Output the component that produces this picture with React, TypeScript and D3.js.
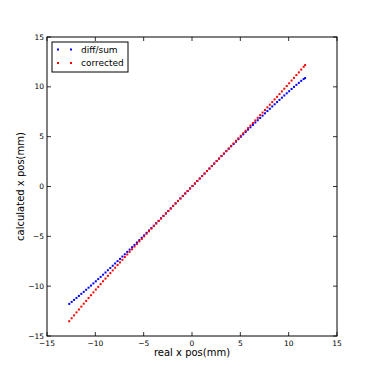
import React, { useEffect, useRef } from "react";
import * as d3 from "d3";

// real x position (mm)
const realX = [
  -12.7, -12.45, -12.2, -11.95, -11.7, -11.45, -11.2, -10.95, -10.7, -10.45,
  -10.2, -9.95, -9.7, -9.45, -9.2, -8.95, -8.7, -8.45, -8.2, -7.95,
  -7.7, -7.45, -7.2, -6.95, -6.7, -6.45, -6.2, -5.95, -5.7, -5.45,
  -5.2, -4.95, -4.7, -4.45, -4.2, -3.95, -3.7, -3.45, -3.2, -2.95,
  -2.7, -2.45, -2.2, -1.95, -1.7, -1.45, -1.2, -0.95, -0.7, -0.45,
  -0.2, 0.05, 0.3, 0.55, 0.8, 1.05, 1.3, 1.55, 1.8, 2.05,
  2.3, 2.55, 2.8, 3.05, 3.3, 3.55, 3.8, 4.05, 4.3, 4.55,
  4.8, 5.05, 5.3, 5.55, 5.8, 6.05, 6.3, 6.55, 6.8, 7.05,
  7.3, 7.55, 7.8, 8.05, 8.3, 8.55, 8.8, 9.05, 9.3, 9.55,
  9.8, 10.05, 10.3, 10.55, 10.8, 11.05, 11.3, 11.55, 11.7,
];

// diff/sum estimate
const diffSum = [
  -11.78, -11.58, -11.38, -11.18, -10.98, -10.77, -10.57, -10.36, -10.15, -9.94,
  -9.72, -9.51, -9.29, -9.07, -8.85, -8.63, -8.4, -8.18, -7.95, -7.72,
  -7.49, -7.26, -7.03, -6.8, -6.56, -6.33, -6.09, -5.86, -5.62, -5.38,
  -5.14, -4.9, -4.65, -4.41, -4.17, -3.93, -3.68, -3.44, -3.19, -2.94,
  -2.7, -2.45, -2.2, -1.95, -1.7, -1.45, -1.2, -0.95, -0.7, -0.45,
  -0.2, 0.05, 0.3, 0.55, 0.8, 1.05, 1.3, 1.55, 1.8, 2.05,
  2.3, 2.55, 2.8, 3.05, 3.29, 3.54, 3.78, 4.03, 4.26, 4.5,
  4.75, 4.99, 5.23, 5.47, 5.71, 5.94, 6.18, 6.42, 6.65, 6.88,
  7.11, 7.34, 7.57, 7.8, 8.03, 8.25, 8.47, 8.69, 8.91, 9.13,
  9.35, 9.56, 9.78, 9.99, 10.2, 10.4, 10.6, 10.78, 10.88,
];

// corrected estimate
const corrected = [
  -13.52, -13.22, -12.93, -12.63, -12.34, -12.05, -11.76, -11.48, -11.19, -10.91,
  -10.62, -10.34, -10.07, -9.79, -9.51, -9.24, -8.96, -8.69, -8.42, -8.15,
  -7.88, -7.62, -7.35, -7.08, -6.82, -6.56, -6.3, -6.03, -5.77, -5.51,
  -5.26, -5.0, -4.74, -4.49, -4.23, -3.97, -3.72, -3.46, -3.21, -2.96,
  -2.71, -2.46, -2.21, -1.95, -1.7, -1.45, -1.2, -0.95, -0.7, -0.45,
  -0.2, 0.05, 0.3, 0.55, 0.8, 1.05, 1.3, 1.55, 1.8, 2.05,
  2.3, 2.56, 2.81, 3.06, 3.31, 3.57, 3.82, 4.07, 4.32, 4.58,
  4.83, 5.09, 5.34, 5.6, 5.86, 6.12, 6.37, 6.63, 6.89, 7.16,
  7.42, 7.68, 7.94, 8.21, 8.47, 8.74, 9.0, 9.27, 9.54, 9.81,
  10.08, 10.35, 10.63, 10.9, 11.18, 11.45, 11.73, 12.01, 12.18,
];

const ticks = [-15, -10, -5, 0, 5, 10, 15];
const seriesNames = ["diff/sum", "corrected"];
const seriesColors = ["#0000ff", "#ff0000"];

const App = () => {
  const ref = useRef(null);
  const width = 374;
  const height = 374;
  const margin = { left: 47, right: 37, top: 37, bottom: 38 };

  useEffect(() => {
    const svg = d3.select(ref.current);
    svg.selectAll("*").remove();

    const x = d3.scaleLinear().domain([-15, 15]).range([margin.left, width - margin.right]);
    const y = d3.scaleLinear().domain([-15, 15]).range([height - margin.bottom, margin.top]);
    const fmt = (d) => (d < 0 ? "\u2212" + Math.abs(d) : String(d));
    const font = "DejaVu Sans, sans-serif";

    const series = [diffSum, corrected];
    series.forEach((vals, k) => {
      svg
        .append("g")
        .selectAll("rect")
        .data(vals)
        .enter()
        .append("rect")
        .attr("x", (d, i) => x(realX[i]) - 1)
        .attr("y", (d) => y(d) - 1)
        .attr("width", 2)
        .attr("height", 2)
        .attr("fill", seriesColors[k]);
    });

    // frame
    svg
      .append("rect")
      .attr("x", x(-15))
      .attr("y", y(15))
      .attr("width", x(15) - x(-15))
      .attr("height", y(-15) - y(15))
      .attr("fill", "none")
      .attr("stroke", "#000")
      .attr("stroke-width", 1);

    // inward ticks on all sides
    const tl = 4;
    const tg = svg.append("g").attr("stroke", "#000").attr("stroke-width", 0.8);
    ticks.forEach((t) => {
      tg.append("line").attr("x1", x(t)).attr("x2", x(t)).attr("y1", y(-15)).attr("y2", y(-15) - tl);
      tg.append("line").attr("x1", x(t)).attr("x2", x(t)).attr("y1", y(15)).attr("y2", y(15) + tl);
      tg.append("line").attr("y1", y(t)).attr("y2", y(t)).attr("x1", x(-15)).attr("x2", x(-15) + tl);
      tg.append("line").attr("y1", y(t)).attr("y2", y(t)).attr("x1", x(15)).attr("x2", x(15) - tl);
    });

    svg
      .append("g")
      .selectAll("text")
      .data(ticks)
      .enter()
      .append("text")
      .attr("x", (d) => x(d))
      .attr("y", y(-15) + 10)
      .attr("text-anchor", "middle")
      .style("font-family", font)
      .style("font-size", "7.5px")
      .text(fmt);

    svg
      .append("g")
      .selectAll("text")
      .data(ticks)
      .enter()
      .append("text")
      .attr("x", x(-15) - 3)
      .attr("y", (d) => y(d))
      .attr("dy", "0.35em")
      .attr("text-anchor", "end")
      .style("font-family", font)
      .style("font-size", "7.5px")
      .text(fmt);

    svg
      .append("text")
      .attr("x", (x(-15) + x(15)) / 2)
      .attr("y", 356)
      .attr("text-anchor", "middle")
      .style("font-family", font)
      .style("font-size", "10px")
      .text("real x pos(mm)");

    svg
      .append("text")
      .attr("transform", `translate(24 ${(y(-15) + y(15)) / 2}) rotate(-90)`)
      .attr("text-anchor", "middle")
      .style("font-family", font)
      .style("font-size", "10px")
      .text("calculated x pos(mm)");

    // legend
    const lg = svg.append("g");
    lg.append("rect")
      .attr("x", 52)
      .attr("y", 42)
      .attr("width", 76)
      .attr("height", 30)
      .attr("fill", "#fff")
      .attr("stroke", "#000")
      .attr("stroke-width", 1);
    seriesNames.forEach((name, k) => {
      const cy = 49.5 + k * 13.5;
      [58, 71].forEach((cx) => {
        lg.append("rect")
          .attr("x", cx - 1)
          .attr("y", cy - 1)
          .attr("width", 2)
          .attr("height", 2)
          .attr("fill", seriesColors[k]);
      });
      lg.append("text")
        .attr("x", 81)
        .attr("y", cy)
        .attr("dy", "0.35em")
        .style("font-family", font)
        .style("font-size", "9px")
        .text(name);
    });
  }, []);

  return (
    <svg
      ref={ref}
      width={width}
      height={height}
      style={{ position: "absolute", left: 0, top: 0, background: "#fff" }}
    />
  );
};

export default App;
